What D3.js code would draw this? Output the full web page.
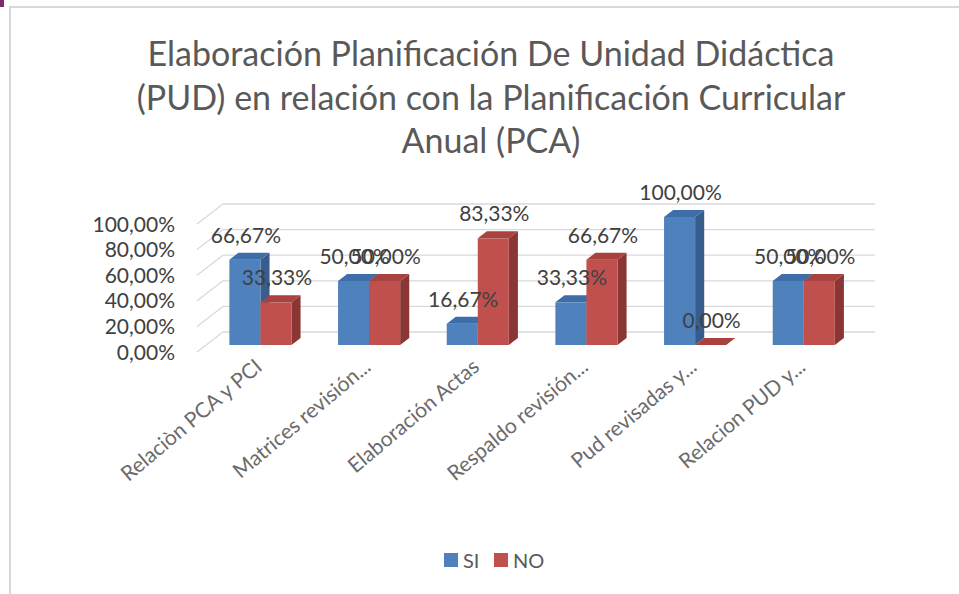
<!DOCTYPE html>
<html>
<head>
<meta charset="utf-8">
<script src="https://cdn.jsdelivr.net/npm/d3@7"></script>
<style>
  html, body { margin: 0; padding: 0; background: #fff; }
  svg { display: block; font-family: Lato, "Open Sans", sans-serif; }
</style>
</head>
<body>
<svg id="chart" width="959" height="594"></svg>
<script>
// ---- data ----
const titleLines = [
  "Elaboración Planificación De Unidad Didáctica",
  "(PUD) en relación con la Planificación Curricular",
  "Anual (PCA)"
];
const categories = [
  "Relaciòn PCA y PCI",
  "Matrices revisión...",
  "Elaboración Actas",
  "Respaldo revisión...",
  "Pud revisadas y...",
  "Relacion PUD y..."
];
const seriesNames = ["SI", "NO"];
const siValues = [0.6667, 0.5, 0.1667, 0.3333, 1.0, 0.5];
const noValues = [0.3333, 0.5, 0.8333, 0.6667, 0.0, 0.5];
const yTicks = [0, 0.2, 0.4, 0.6, 0.8, 1.0];

// ---- layout ----
const svg = d3.select("#chart");
const colors = {
  SI: { front: "#4f81bd", top: "#3e6ea9", side: "#375d8c" },
  NO: { front: "#c0504d", top: "#a9423f", side: "#8a3634" }
};
const floorLeft = 197, floorRight = 849, floorY = 352;
const depth = { dx: 26, dy: -20 };
const barT0 = 0.35, barT1 = 0.70;

const x = d3.scaleBand().domain(categories).range([floorLeft, floorRight]);
const xs = d3.scaleBand().domain(seriesNames).range([0, x.bandwidth()]).paddingInner(0).paddingOuter(0.75);
const hScale = d3.scaleLinear().domain([0, 1]).range([0, 128]);
const yFront = d3.scaleLinear().domain([0, 1]).range([floorY, floorY - 128]);

const fmt = v => (v * 100).toFixed(2).replace(".", ",") + "%";

// frame
svg.append("rect").attr("x", 0).attr("y", 0).attr("width", 4).attr("height", 7).attr("fill", "#7b2c6c");
svg.append("line").attr("x1", 9).attr("x2", 959).attr("y1", 7).attr("y2", 7).attr("stroke", "#d9d9d9").attr("stroke-width", 2);
svg.append("line").attr("x1", 10).attr("x2", 10).attr("y1", 6).attr("y2", 594).attr("stroke", "#d9d9d9").attr("stroke-width", 2);

// title
const titleG = svg.append("text").attr("text-anchor", "middle").attr("fill", "#595959")
  .attr("font-size", 34);
titleLines.forEach((t, i) => {
  titleG.append("tspan").attr("x", 491).attr("y", 66 + i * 43.5).text(t);
});

// gridlines (back wall + left side diagonal)
const grid = svg.append("g").attr("stroke", "#d9d9d9").attr("stroke-width", 1.3).attr("fill", "none");
yTicks.forEach(v => {
  const yf = yFront(v);
  grid.append("line").attr("x1", floorLeft).attr("y1", yf).attr("x2", floorLeft + depth.dx).attr("y2", yf + depth.dy);
  grid.append("line").attr("x1", floorLeft + depth.dx).attr("y1", yf + depth.dy).attr("x2", floorRight + depth.dx).attr("y2", yf + depth.dy);
});

// y axis labels
svg.append("g").selectAll("text").data(yTicks).join("text")
  .attr("x", 175).attr("y", d => yFront(d)).attr("dy", "0.36em")
  .attr("text-anchor", "end").attr("font-size", 21).attr("fill", "#404040")
  .text(d => fmt(d));

// bars
const bars = [];
categories.forEach((c, i) => {
  bars.push({ cat: c, s: "SI", v: siValues[i] });
  bars.push({ cat: c, s: "NO", v: noValues[i] });
});
const ox = depth.dx * barT0, oy = depth.dy * barT0;
const bdx = depth.dx * (barT1 - barT0), bdy = depth.dy * (barT1 - barT0);
const barG = svg.append("g");
bars.forEach(b => {
  const x0 = x(b.cat) + xs(b.s) + ox;
  const w = xs.bandwidth();
  const yb = floorY + oy;
  const yt = yb - hScale(b.v);
  const g = barG.append("g");
  // side
  g.append("path").attr("fill", colors[b.s].side)
    .attr("d", `M${x0 + w},${yb} L${x0 + w + bdx},${yb + bdy} L${x0 + w + bdx},${yt + bdy} L${x0 + w},${yt} Z`);
  // front
  g.append("rect").attr("x", x0).attr("y", yt).attr("width", w).attr("height", yb - yt).attr("fill", colors[b.s].front);
  // top
  g.append("path").attr("fill", colors[b.s].top)
    .attr("d", `M${x0},${yt} L${x0 + bdx},${yt + bdy} L${x0 + w + bdx},${yt + bdy} L${x0 + w},${yt} Z`);
  b.lx = x0 + w / 2 + 1;
  b.ly = yt + bdy - 10;
});

// data labels
svg.append("g").selectAll("text").data(bars).join("text")
  .attr("x", d => d.lx).attr("y", d => d.ly)
  .attr("text-anchor", "middle").attr("font-size", 21).attr("fill", "#404040")
  .text(d => fmt(d.v));

// category labels
svg.append("g").selectAll("text").data(categories).join("text")
  .attr("text-anchor", "end").attr("font-size", 21).attr("fill", "#6b6b6b")
  .attr("transform", d => `translate(${x(d) + x.bandwidth() / 2 + ox + 3},369) rotate(-40)`)
  .text(d => d);

// legend
const legend = svg.append("g");
const legendItems = [{ s: "SI", x: 444 }, { s: "NO", x: 494 }];
legendItems.forEach(it => {
  legend.append("rect").attr("x", it.x).attr("y", 553).attr("width", 14).attr("height", 14).attr("fill", colors[it.s].front);
  legend.append("text").attr("x", it.x + 19).attr("y", 568).attr("font-size", 20).attr("fill", "#595959").text(it.s);
});
</script>
</body>
</html>
